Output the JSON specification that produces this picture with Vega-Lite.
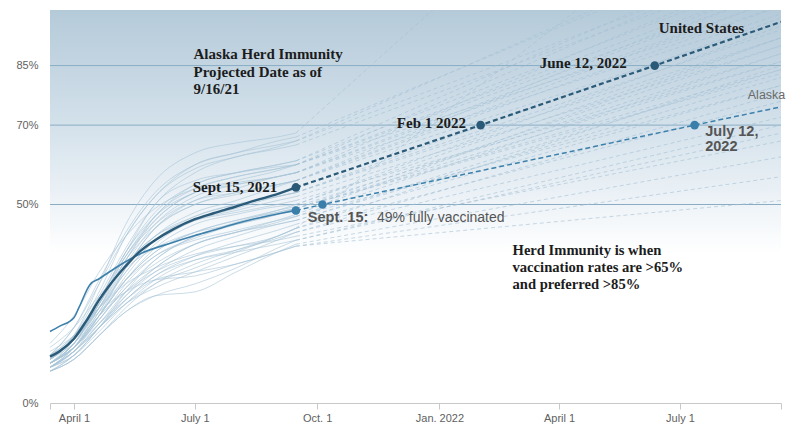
{
  "$schema": "https://vega.github.io/schema/vega-lite/v6.json",
  "width": 731,
  "height": 393,
  "autosize": {"type": "none"},
  "padding": {"left": 50, "top": 10, "right": 5, "bottom": 22},
  "background": "#ffffff",
  "config": {"view": {"stroke": null}, "font": "Liberation Sans"},
  "datasets": {
    "hist": [
      {"s":"VT","d":"2021-03-14","v":11},{"s":"VT","d":"2021-04-01","v":17},{"s":"VT","d":"2021-04-20","v":30},{"s":"VT","d":"2021-05-10","v":45},{"s":"VT","d":"2021-06-01","v":56},{"s":"VT","d":"2021-07-01","v":63},{"s":"VT","d":"2021-08-01","v":65.5},{"s":"VT","d":"2021-09-01","v":67},{"s":"VT","d":"2021-09-15","v":68},
      {"s":"ME","d":"2021-03-14","v":12},{"s":"ME","d":"2021-04-01","v":19},{"s":"ME","d":"2021-04-20","v":31},{"s":"ME","d":"2021-05-10","v":43},{"s":"ME","d":"2021-06-01","v":53},{"s":"ME","d":"2021-07-01","v":60},{"s":"ME","d":"2021-08-01","v":63},{"s":"ME","d":"2021-09-01","v":66},{"s":"ME","d":"2021-09-15","v":67},
      {"s":"MA","d":"2021-03-14","v":11},{"s":"MA","d":"2021-04-01","v":17},{"s":"MA","d":"2021-04-20","v":28},{"s":"MA","d":"2021-05-10","v":42},{"s":"MA","d":"2021-06-01","v":52},{"s":"MA","d":"2021-07-01","v":60},{"s":"MA","d":"2021-08-01","v":63},{"s":"MA","d":"2021-09-01","v":65},{"s":"MA","d":"2021-09-15","v":66},
      {"s":"CT","d":"2021-03-14","v":12},{"s":"CT","d":"2021-04-01","v":19},{"s":"CT","d":"2021-04-20","v":30},{"s":"CT","d":"2021-05-10","v":42},{"s":"CT","d":"2021-06-01","v":52},{"s":"CT","d":"2021-07-01","v":59},{"s":"CT","d":"2021-08-01","v":62},{"s":"CT","d":"2021-09-01","v":64.5},{"s":"CT","d":"2021-09-15","v":66},
      {"s":"RI","d":"2021-03-14","v":10},{"s":"RI","d":"2021-04-01","v":16},{"s":"RI","d":"2021-04-20","v":27},{"s":"RI","d":"2021-05-10","v":39},{"s":"RI","d":"2021-06-01","v":50},{"s":"RI","d":"2021-07-01","v":58},{"s":"RI","d":"2021-08-01","v":62},{"s":"RI","d":"2021-09-01","v":64},{"s":"RI","d":"2021-09-15","v":65},
      {"s":"NH","d":"2021-03-14","v":12},{"s":"NH","d":"2021-04-01","v":17},{"s":"NH","d":"2021-04-20","v":26},{"s":"NH","d":"2021-05-10","v":38},{"s":"NH","d":"2021-06-01","v":50},{"s":"NH","d":"2021-07-01","v":56},{"s":"NH","d":"2021-08-01","v":58},{"s":"NH","d":"2021-09-01","v":59.5},{"s":"NH","d":"2021-09-15","v":60},
      {"s":"NJ","d":"2021-03-14","v":10},{"s":"NJ","d":"2021-04-01","v":15},{"s":"NJ","d":"2021-04-20","v":26},{"s":"NJ","d":"2021-05-10","v":38},{"s":"NJ","d":"2021-06-01","v":48},{"s":"NJ","d":"2021-07-01","v":55},{"s":"NJ","d":"2021-08-01","v":58},{"s":"NJ","d":"2021-09-01","v":60},{"s":"NJ","d":"2021-09-15","v":61},
      {"s":"MD","d":"2021-03-14","v":10},{"s":"MD","d":"2021-04-01","v":15},{"s":"MD","d":"2021-04-20","v":25},{"s":"MD","d":"2021-05-10","v":37},{"s":"MD","d":"2021-06-01","v":47},{"s":"MD","d":"2021-07-01","v":55},{"s":"MD","d":"2021-08-01","v":58},{"s":"MD","d":"2021-09-01","v":60},{"s":"MD","d":"2021-09-15","v":61},
      {"s":"NM","d":"2021-03-14","v":15},{"s":"NM","d":"2021-04-01","v":22},{"s":"NM","d":"2021-04-20","v":33},{"s":"NM","d":"2021-05-10","v":42},{"s":"NM","d":"2021-06-01","v":49},{"s":"NM","d":"2021-07-01","v":54},{"s":"NM","d":"2021-08-01","v":57},{"s":"NM","d":"2021-09-01","v":59},{"s":"NM","d":"2021-09-15","v":60},
      {"s":"WA","d":"2021-03-14","v":10},{"s":"WA","d":"2021-04-01","v":15},{"s":"WA","d":"2021-04-20","v":25},{"s":"WA","d":"2021-05-10","v":36},{"s":"WA","d":"2021-06-01","v":47},{"s":"WA","d":"2021-07-01","v":54},{"s":"WA","d":"2021-08-01","v":57},{"s":"WA","d":"2021-09-01","v":59},{"s":"WA","d":"2021-09-15","v":60},
      {"s":"NY","d":"2021-03-14","v":10},{"s":"NY","d":"2021-04-01","v":15},{"s":"NY","d":"2021-04-20","v":25},{"s":"NY","d":"2021-05-10","v":36},{"s":"NY","d":"2021-06-01","v":46},{"s":"NY","d":"2021-07-01","v":53},{"s":"NY","d":"2021-08-01","v":56},{"s":"NY","d":"2021-09-01","v":58.5},{"s":"NY","d":"2021-09-15","v":60},
      {"s":"HI","d":"2021-03-14","v":11},{"s":"HI","d":"2021-04-01","v":16},{"s":"HI","d":"2021-04-20","v":26},{"s":"HI","d":"2021-05-10","v":38},{"s":"HI","d":"2021-06-01","v":47},{"s":"HI","d":"2021-07-01","v":53},{"s":"HI","d":"2021-08-01","v":55.5},{"s":"HI","d":"2021-09-01","v":57},{"s":"HI","d":"2021-09-15","v":58},
      {"s":"OR","d":"2021-03-14","v":10},{"s":"OR","d":"2021-04-01","v":15},{"s":"OR","d":"2021-04-20","v":24},{"s":"OR","d":"2021-05-10","v":35},{"s":"OR","d":"2021-06-01","v":45},{"s":"OR","d":"2021-07-01","v":52},{"s":"OR","d":"2021-08-01","v":55},{"s":"OR","d":"2021-09-01","v":57},{"s":"OR","d":"2021-09-15","v":58},
      {"s":"CO","d":"2021-03-14","v":11},{"s":"CO","d":"2021-04-01","v":16},{"s":"CO","d":"2021-04-20","v":25},{"s":"CO","d":"2021-05-10","v":37},{"s":"CO","d":"2021-06-01","v":46},{"s":"CO","d":"2021-07-01","v":53},{"s":"CO","d":"2021-08-01","v":55},{"s":"CO","d":"2021-09-01","v":57},{"s":"CO","d":"2021-09-15","v":58},
      {"s":"VA","d":"2021-03-14","v":9},{"s":"VA","d":"2021-04-01","v":14},{"s":"VA","d":"2021-04-20","v":23},{"s":"VA","d":"2021-05-10","v":34},{"s":"VA","d":"2021-06-01","v":44},{"s":"VA","d":"2021-07-01","v":51},{"s":"VA","d":"2021-08-01","v":54},{"s":"VA","d":"2021-09-01","v":57},{"s":"VA","d":"2021-09-15","v":58},
      {"s":"CA","d":"2021-03-14","v":9},{"s":"CA","d":"2021-04-01","v":13},{"s":"CA","d":"2021-04-20","v":22},{"s":"CA","d":"2021-05-10","v":34},{"s":"CA","d":"2021-06-01","v":44},{"s":"CA","d":"2021-07-01","v":50},{"s":"CA","d":"2021-08-01","v":53},{"s":"CA","d":"2021-09-01","v":55},{"s":"CA","d":"2021-09-15","v":56},
      {"s":"MN","d":"2021-03-14","v":11},{"s":"MN","d":"2021-04-01","v":16},{"s":"MN","d":"2021-04-20","v":26},{"s":"MN","d":"2021-05-10","v":37},{"s":"MN","d":"2021-06-01","v":45},{"s":"MN","d":"2021-07-01","v":51},{"s":"MN","d":"2021-08-01","v":53},{"s":"MN","d":"2021-09-01","v":55},{"s":"MN","d":"2021-09-15","v":56},
      {"s":"PA","d":"2021-03-14","v":9},{"s":"PA","d":"2021-04-01","v":14},{"s":"PA","d":"2021-04-20","v":24},{"s":"PA","d":"2021-05-10","v":36},{"s":"PA","d":"2021-06-01","v":44},{"s":"PA","d":"2021-07-01","v":50},{"s":"PA","d":"2021-08-01","v":52.5},{"s":"PA","d":"2021-09-01","v":55},{"s":"PA","d":"2021-09-15","v":56},
      {"s":"DE","d":"2021-03-14","v":10},{"s":"DE","d":"2021-04-01","v":15},{"s":"DE","d":"2021-04-20","v":24},{"s":"DE","d":"2021-05-10","v":34},{"s":"DE","d":"2021-06-01","v":42},{"s":"DE","d":"2021-07-01","v":48},{"s":"DE","d":"2021-08-01","v":51},{"s":"DE","d":"2021-09-01","v":54.5},{"s":"DE","d":"2021-09-15","v":56},
      {"s":"FL","d":"2021-03-14","v":10},{"s":"FL","d":"2021-04-01","v":14},{"s":"FL","d":"2021-04-20","v":22},{"s":"FL","d":"2021-05-10","v":32},{"s":"FL","d":"2021-06-01","v":40},{"s":"FL","d":"2021-07-01","v":46},{"s":"FL","d":"2021-08-01","v":49},{"s":"FL","d":"2021-09-01","v":52},{"s":"FL","d":"2021-09-15","v":53},
      {"s":"IL","d":"2021-03-14","v":9},{"s":"IL","d":"2021-04-01","v":14},{"s":"IL","d":"2021-04-20","v":23},{"s":"IL","d":"2021-05-10","v":33},{"s":"IL","d":"2021-06-01","v":41},{"s":"IL","d":"2021-07-01","v":47},{"s":"IL","d":"2021-08-01","v":50},{"s":"IL","d":"2021-09-01","v":52},{"s":"IL","d":"2021-09-15","v":53},
      {"s":"WI","d":"2021-03-14","v":11},{"s":"WI","d":"2021-04-01","v":16},{"s":"WI","d":"2021-04-20","v":25},{"s":"WI","d":"2021-05-10","v":35},{"s":"WI","d":"2021-06-01","v":42},{"s":"WI","d":"2021-07-01","v":47},{"s":"WI","d":"2021-08-01","v":50},{"s":"WI","d":"2021-09-01","v":52},{"s":"WI","d":"2021-09-15","v":53},
      {"s":"NE","d":"2021-03-14","v":11},{"s":"NE","d":"2021-04-01","v":16},{"s":"NE","d":"2021-04-20","v":24},{"s":"NE","d":"2021-05-10","v":33},{"s":"NE","d":"2021-06-01","v":41},{"s":"NE","d":"2021-07-01","v":46},{"s":"NE","d":"2021-08-01","v":48.5},{"s":"NE","d":"2021-09-01","v":51},{"s":"NE","d":"2021-09-15","v":52},
      {"s":"IA","d":"2021-03-14","v":12},{"s":"IA","d":"2021-04-01","v":17},{"s":"IA","d":"2021-04-20","v":26},{"s":"IA","d":"2021-05-10","v":35},{"s":"IA","d":"2021-06-01","v":42},{"s":"IA","d":"2021-07-01","v":46},{"s":"IA","d":"2021-08-01","v":48},{"s":"IA","d":"2021-09-01","v":50},{"s":"IA","d":"2021-09-15","v":51},
      {"s":"MI","d":"2021-03-14","v":10},{"s":"MI","d":"2021-04-01","v":14},{"s":"MI","d":"2021-04-20","v":22},{"s":"MI","d":"2021-05-10","v":31},{"s":"MI","d":"2021-06-01","v":39},{"s":"MI","d":"2021-07-01","v":45},{"s":"MI","d":"2021-08-01","v":47.5},{"s":"MI","d":"2021-09-01","v":49.5},{"s":"MI","d":"2021-09-15","v":50},
      {"s":"UT","d":"2021-03-14","v":8},{"s":"UT","d":"2021-04-01","v":12},{"s":"UT","d":"2021-04-20","v":19},{"s":"UT","d":"2021-05-10","v":28},{"s":"UT","d":"2021-06-01","v":36},{"s":"UT","d":"2021-07-01","v":42},{"s":"UT","d":"2021-08-01","v":45.5},{"s":"UT","d":"2021-09-01","v":48.5},{"s":"UT","d":"2021-09-15","v":50},
      {"s":"AZ","d":"2021-03-14","v":10},{"s":"AZ","d":"2021-04-01","v":14},{"s":"AZ","d":"2021-04-20","v":22},{"s":"AZ","d":"2021-05-10","v":31},{"s":"AZ","d":"2021-06-01","v":38},{"s":"AZ","d":"2021-07-01","v":43},{"s":"AZ","d":"2021-08-01","v":46},{"s":"AZ","d":"2021-09-01","v":48.5},{"s":"AZ","d":"2021-09-15","v":49.5},
      {"s":"SD","d":"2021-03-14","v":14},{"s":"SD","d":"2021-04-01","v":19},{"s":"SD","d":"2021-04-20","v":27},{"s":"SD","d":"2021-05-10","v":34},{"s":"SD","d":"2021-06-01","v":39},{"s":"SD","d":"2021-07-01","v":43},{"s":"SD","d":"2021-08-01","v":45},{"s":"SD","d":"2021-09-01","v":47.5},{"s":"SD","d":"2021-09-15","v":49},
      {"s":"OH","d":"2021-03-14","v":10},{"s":"OH","d":"2021-04-01","v":14},{"s":"OH","d":"2021-04-20","v":22},{"s":"OH","d":"2021-05-10","v":31},{"s":"OH","d":"2021-06-01","v":38},{"s":"OH","d":"2021-07-01","v":43},{"s":"OH","d":"2021-08-01","v":46},{"s":"OH","d":"2021-09-01","v":48},{"s":"OH","d":"2021-09-15","v":49},
      {"s":"KS","d":"2021-03-14","v":10},{"s":"KS","d":"2021-04-01","v":14},{"s":"KS","d":"2021-04-20","v":21},{"s":"KS","d":"2021-05-10","v":30},{"s":"KS","d":"2021-06-01","v":37},{"s":"KS","d":"2021-07-01","v":41.5},{"s":"KS","d":"2021-08-01","v":45},{"s":"KS","d":"2021-09-01","v":47.5},{"s":"KS","d":"2021-09-15","v":49},
      {"s":"KY","d":"2021-03-14","v":10},{"s":"KY","d":"2021-04-01","v":14},{"s":"KY","d":"2021-04-20","v":21},{"s":"KY","d":"2021-05-10","v":29},{"s":"KY","d":"2021-06-01","v":36},{"s":"KY","d":"2021-07-01","v":42},{"s":"KY","d":"2021-08-01","v":45},{"s":"KY","d":"2021-09-01","v":48},{"s":"KY","d":"2021-09-15","v":49},
      {"s":"TX","d":"2021-03-14","v":8},{"s":"TX","d":"2021-04-01","v":12},{"s":"TX","d":"2021-04-20","v":19},{"s":"TX","d":"2021-05-10","v":27},{"s":"TX","d":"2021-06-01","v":34},{"s":"TX","d":"2021-07-01","v":40},{"s":"TX","d":"2021-08-01","v":43},{"s":"TX","d":"2021-09-01","v":46},{"s":"TX","d":"2021-09-15","v":47.5},
      {"s":"NC","d":"2021-03-14","v":10},{"s":"NC","d":"2021-04-01","v":14},{"s":"NC","d":"2021-04-20","v":21},{"s":"NC","d":"2021-05-10","v":29},{"s":"NC","d":"2021-06-01","v":35},{"s":"NC","d":"2021-07-01","v":40},{"s":"NC","d":"2021-08-01","v":43},{"s":"NC","d":"2021-09-01","v":45.5},{"s":"NC","d":"2021-09-15","v":47},
      {"s":"MT","d":"2021-03-14","v":12},{"s":"MT","d":"2021-04-01","v":16},{"s":"MT","d":"2021-04-20","v":24},{"s":"MT","d":"2021-05-10","v":31},{"s":"MT","d":"2021-06-01","v":37},{"s":"MT","d":"2021-07-01","v":41},{"s":"MT","d":"2021-08-01","v":43.5},{"s":"MT","d":"2021-09-01","v":46},{"s":"MT","d":"2021-09-15","v":47},
      {"s":"IN","d":"2021-03-14","v":9},{"s":"IN","d":"2021-04-01","v":13},{"s":"IN","d":"2021-04-20","v":20},{"s":"IN","d":"2021-05-10","v":28},{"s":"IN","d":"2021-06-01","v":34},{"s":"IN","d":"2021-07-01","v":40},{"s":"IN","d":"2021-08-01","v":43},{"s":"IN","d":"2021-09-01","v":45},{"s":"IN","d":"2021-09-15","v":46},
      {"s":"MO","d":"2021-03-14","v":9},{"s":"MO","d":"2021-04-01","v":13},{"s":"MO","d":"2021-04-20","v":20},{"s":"MO","d":"2021-05-10","v":27},{"s":"MO","d":"2021-06-01","v":33},{"s":"MO","d":"2021-07-01","v":38.5},{"s":"MO","d":"2021-08-01","v":42},{"s":"MO","d":"2021-09-01","v":45},{"s":"MO","d":"2021-09-15","v":46},
      {"s":"SC","d":"2021-03-14","v":9},{"s":"SC","d":"2021-04-01","v":12},{"s":"SC","d":"2021-04-20","v":19},{"s":"SC","d":"2021-05-10","v":26},{"s":"SC","d":"2021-06-01","v":32},{"s":"SC","d":"2021-07-01","v":37},{"s":"SC","d":"2021-08-01","v":40.5},{"s":"SC","d":"2021-09-01","v":43.5},{"s":"SC","d":"2021-09-15","v":45},
      {"s":"GA","d":"2021-03-14","v":8},{"s":"GA","d":"2021-04-01","v":11},{"s":"GA","d":"2021-04-20","v":17},{"s":"GA","d":"2021-05-10","v":24},{"s":"GA","d":"2021-06-01","v":30},{"s":"GA","d":"2021-07-01","v":35},{"s":"GA","d":"2021-08-01","v":38.5},{"s":"GA","d":"2021-09-01","v":42},{"s":"GA","d":"2021-09-15","v":44},
      {"s":"OK","d":"2021-03-14","v":11},{"s":"OK","d":"2021-04-01","v":15},{"s":"OK","d":"2021-04-20","v":22},{"s":"OK","d":"2021-05-10","v":28},{"s":"OK","d":"2021-06-01","v":33},{"s":"OK","d":"2021-07-01","v":37},{"s":"OK","d":"2021-08-01","v":39.5},{"s":"OK","d":"2021-09-01","v":42},{"s":"OK","d":"2021-09-15","v":44},
      {"s":"AR","d":"2021-03-14","v":9},{"s":"AR","d":"2021-04-01","v":13},{"s":"AR","d":"2021-04-20","v":19},{"s":"AR","d":"2021-05-10","v":25},{"s":"AR","d":"2021-06-01","v":30},{"s":"AR","d":"2021-07-01","v":34},{"s":"AR","d":"2021-08-01","v":38},{"s":"AR","d":"2021-09-01","v":42},{"s":"AR","d":"2021-09-15","v":44},
      {"s":"TN","d":"2021-03-14","v":9},{"s":"TN","d":"2021-04-01","v":12},{"s":"TN","d":"2021-04-20","v":18},{"s":"TN","d":"2021-05-10","v":25},{"s":"TN","d":"2021-06-01","v":31},{"s":"TN","d":"2021-07-01","v":36},{"s":"TN","d":"2021-08-01","v":38.5},{"s":"TN","d":"2021-09-01","v":41.5},{"s":"TN","d":"2021-09-15","v":43},
      {"s":"LA","d":"2021-03-14","v":9},{"s":"LA","d":"2021-04-01","v":13},{"s":"LA","d":"2021-04-20","v":19},{"s":"LA","d":"2021-05-10","v":25},{"s":"LA","d":"2021-06-01","v":29},{"s":"LA","d":"2021-07-01","v":33},{"s":"LA","d":"2021-08-01","v":37},{"s":"LA","d":"2021-09-01","v":41},{"s":"LA","d":"2021-09-15","v":43},
      {"s":"ND","d":"2021-03-14","v":13},{"s":"ND","d":"2021-04-01","v":17},{"s":"ND","d":"2021-04-20","v":24},{"s":"ND","d":"2021-05-10","v":30},{"s":"ND","d":"2021-06-01","v":34},{"s":"ND","d":"2021-07-01","v":37.5},{"s":"ND","d":"2021-08-01","v":39.5},{"s":"ND","d":"2021-09-01","v":41},{"s":"ND","d":"2021-09-15","v":42},
      {"s":"ID","d":"2021-03-14","v":9},{"s":"ID","d":"2021-04-01","v":13},{"s":"ID","d":"2021-04-20","v":19},{"s":"ID","d":"2021-05-10","v":26},{"s":"ID","d":"2021-06-01","v":32},{"s":"ID","d":"2021-07-01","v":36},{"s":"ID","d":"2021-08-01","v":38},{"s":"ID","d":"2021-09-01","v":40},{"s":"ID","d":"2021-09-15","v":41},
      {"s":"MS","d":"2021-03-14","v":8},{"s":"MS","d":"2021-04-01","v":11},{"s":"MS","d":"2021-04-20","v":17},{"s":"MS","d":"2021-05-10","v":23},{"s":"MS","d":"2021-06-01","v":27},{"s":"MS","d":"2021-07-01","v":30},{"s":"MS","d":"2021-08-01","v":34},{"s":"MS","d":"2021-09-01","v":39},{"s":"MS","d":"2021-09-15","v":41},
      {"s":"AL","d":"2021-03-14","v":8},{"s":"AL","d":"2021-04-01","v":11},{"s":"AL","d":"2021-04-20","v":17},{"s":"AL","d":"2021-05-10","v":23},{"s":"AL","d":"2021-06-01","v":27},{"s":"AL","d":"2021-07-01","v":28},{"s":"AL","d":"2021-08-01","v":33},{"s":"AL","d":"2021-09-01","v":38},{"s":"AL","d":"2021-09-15","v":40},
      {"s":"WY","d":"2021-03-14","v":10},{"s":"WY","d":"2021-04-01","v":14},{"s":"WY","d":"2021-04-20","v":20},{"s":"WY","d":"2021-05-10","v":26},{"s":"WY","d":"2021-06-01","v":31},{"s":"WY","d":"2021-07-01","v":33},{"s":"WY","d":"2021-08-01","v":35},{"s":"WY","d":"2021-09-01","v":38},{"s":"WY","d":"2021-09-15","v":39.5},
      {"s":"WV","d":"2021-03-14","v":12},{"s":"WV","d":"2021-04-01","v":16},{"s":"WV","d":"2021-04-20","v":23},{"s":"WV","d":"2021-05-10","v":28},{"s":"WV","d":"2021-06-01","v":31},{"s":"WV","d":"2021-07-01","v":32},{"s":"WV","d":"2021-08-01","v":35},{"s":"WV","d":"2021-09-01","v":38},{"s":"WV","d":"2021-09-15","v":39.5}
    ],
    "proj": [
      {"s":"VT","d":"2021-09-15","v":68},{"s":"VT","d":"2022-09-15","v":178},
      {"s":"ME","d":"2021-09-15","v":67},{"s":"ME","d":"2022-09-15","v":118},
      {"s":"MA","d":"2021-09-15","v":66},{"s":"MA","d":"2022-09-15","v":112},
      {"s":"CT","d":"2021-09-15","v":66},{"s":"CT","d":"2022-09-15","v":120},
      {"s":"RI","d":"2021-09-15","v":65},{"s":"RI","d":"2022-09-15","v":110},
      {"s":"NH","d":"2021-09-15","v":60},{"s":"NH","d":"2022-09-15","v":104},
      {"s":"NJ","d":"2021-09-15","v":61},{"s":"NJ","d":"2022-09-15","v":108},
      {"s":"MD","d":"2021-09-15","v":61},{"s":"MD","d":"2022-09-15","v":115},
      {"s":"NM","d":"2021-09-15","v":60},{"s":"NM","d":"2022-09-15","v":100},
      {"s":"WA","d":"2021-09-15","v":60},{"s":"WA","d":"2022-09-15","v":106},
      {"s":"NY","d":"2021-09-15","v":60},{"s":"NY","d":"2022-09-15","v":113},
      {"s":"HI","d":"2021-09-15","v":58},{"s":"HI","d":"2022-09-15","v":98},
      {"s":"OR","d":"2021-09-15","v":58},{"s":"OR","d":"2022-09-15","v":102},
      {"s":"CO","d":"2021-09-15","v":58},{"s":"CO","d":"2022-09-15","v":104},
      {"s":"VA","d":"2021-09-15","v":58},{"s":"VA","d":"2022-09-15","v":110},
      {"s":"CA","d":"2021-09-15","v":56},{"s":"CA","d":"2022-09-15","v":100},
      {"s":"MN","d":"2021-09-15","v":56},{"s":"MN","d":"2022-09-15","v":96},
      {"s":"PA","d":"2021-09-15","v":56},{"s":"PA","d":"2022-09-15","v":102},
      {"s":"DE","d":"2021-09-15","v":56},{"s":"DE","d":"2022-09-15","v":106},
      {"s":"FL","d":"2021-09-15","v":53},{"s":"FL","d":"2022-09-15","v":92},
      {"s":"IL","d":"2021-09-15","v":53},{"s":"IL","d":"2022-09-15","v":97},
      {"s":"WI","d":"2021-09-15","v":53},{"s":"WI","d":"2022-09-15","v":94},
      {"s":"NE","d":"2021-09-15","v":52},{"s":"NE","d":"2022-09-15","v":90},
      {"s":"IA","d":"2021-09-15","v":51},{"s":"IA","d":"2022-09-15","v":86},
      {"s":"MI","d":"2021-09-15","v":50},{"s":"MI","d":"2022-09-15","v":92},
      {"s":"UT","d":"2021-09-15","v":50},{"s":"UT","d":"2022-09-15","v":95},
      {"s":"AZ","d":"2021-09-15","v":49.5},{"s":"AZ","d":"2022-09-15","v":88},
      {"s":"SD","d":"2021-09-15","v":49},{"s":"SD","d":"2022-09-15","v":84},
      {"s":"OH","d":"2021-09-15","v":49},{"s":"OH","d":"2022-09-15","v":86},
      {"s":"KS","d":"2021-09-15","v":49},{"s":"KS","d":"2022-09-15","v":90},
      {"s":"KY","d":"2021-09-15","v":49},{"s":"KY","d":"2022-09-15","v":83},
      {"s":"TX","d":"2021-09-15","v":47.5},{"s":"TX","d":"2022-09-15","v":92},
      {"s":"NC","d":"2021-09-15","v":47},{"s":"NC","d":"2022-09-15","v":88},
      {"s":"MT","d":"2021-09-15","v":47},{"s":"MT","d":"2022-09-15","v":80},
      {"s":"IN","d":"2021-09-15","v":46},{"s":"IN","d":"2022-09-15","v":82},
      {"s":"MO","d":"2021-09-15","v":46},{"s":"MO","d":"2022-09-15","v":84},
      {"s":"SC","d":"2021-09-15","v":45},{"s":"SC","d":"2022-09-15","v":80},
      {"s":"GA","d":"2021-09-15","v":44},{"s":"GA","d":"2022-09-15","v":85},
      {"s":"OK","d":"2021-09-15","v":44},{"s":"OK","d":"2022-09-15","v":76},
      {"s":"AR","d":"2021-09-15","v":44},{"s":"AR","d":"2022-09-15","v":139},
      {"s":"TN","d":"2021-09-15","v":43},{"s":"TN","d":"2022-09-15","v":72},
      {"s":"LA","d":"2021-09-15","v":43},{"s":"LA","d":"2022-09-15","v":78},
      {"s":"ND","d":"2021-09-15","v":42},{"s":"ND","d":"2022-09-15","v":66},
      {"s":"ID","d":"2021-09-15","v":41},{"s":"ID","d":"2022-09-15","v":68},
      {"s":"MS","d":"2021-09-15","v":41},{"s":"MS","d":"2022-09-15","v":70},
      {"s":"AL","d":"2021-09-15","v":40},{"s":"AL","d":"2022-09-15","v":62},
      {"s":"WY","d":"2021-09-15","v":39.5},{"s":"WY","d":"2022-09-15","v":57},
      {"s":"WV","d":"2021-09-15","v":39.5},{"s":"WV","d":"2022-09-15","v":51}
    ],
    "usHist": [
      {"d":"2021-03-14","v":11.7},{"d":"2021-03-21","v":13},{"d":"2021-04-01","v":16.2},{"d":"2021-04-10","v":20.5},{"d":"2021-04-20","v":26},{"d":"2021-04-27","v":29.3},{"d":"2021-05-10","v":34.5},{"d":"2021-05-20","v":38},{"d":"2021-06-01","v":41},{"d":"2021-06-15","v":43.8},{"d":"2021-07-01","v":46.3},{"d":"2021-07-15","v":47.8},{"d":"2021-08-01","v":49.5},{"d":"2021-08-15","v":51},{"d":"2021-09-01","v":52.6},{"d":"2021-09-15","v":54.3}
    ],
    "akHist": [
      {"d":"2021-03-14","v":18},{"d":"2021-03-21","v":19.3},{"d":"2021-04-01","v":21.5},{"d":"2021-04-05","v":24.2},{"d":"2021-04-13","v":29.8},{"d":"2021-04-20","v":31.3},{"d":"2021-05-03","v":34.2},{"d":"2021-05-21","v":37.6},{"d":"2021-06-15","v":40.5},{"d":"2021-07-01","v":42.2},{"d":"2021-07-15","v":43.5},{"d":"2021-08-01","v":45.2},{"d":"2021-08-15","v":46.4},{"d":"2021-09-01","v":47.6},{"d":"2021-09-15","v":48.5}
    ],
    "usProj": [
      {"d":"2021-09-15","v":54.3},{"d":"2022-02-01","v":70},{"d":"2022-06-12","v":85},{"d":"2022-09-15","v":96}
    ],
    "akProj": [
      {"d":"2021-09-15","v":48.5},{"d":"2021-10-05","v":50},{"d":"2022-07-12","v":70},{"d":"2022-09-15","v":74.6}
    ]
  },
  "layer": [
    {
      "data": {"values": [{"d":"2021-03-14","d2":"2022-09-15","v":0,"v2":99}]},
      "mark": {"type": "rect", "color": {"gradient": "linear", "x1": 0, "y1": 0, "x2": 0, "y2": 1, "stops": [{"offset": 0, "color": "#b5cad9"}, {"offset": 0.28, "color": "#d2e0ea"}, {"offset": 0.5, "color": "#eff4f8"}, {"offset": 0.62, "color": "#ffffff"}, {"offset": 1, "color": "#ffffff"}]}},
      "encoding": {
        "x": {"field": "d", "type": "temporal", "scale": {"type": "utc", "domain": [{"year":2021,"month":3,"date":14,"utc":true},{"year":2022,"month":9,"date":15,"utc":true}]},
          "axis": {"title": null, "values": [{"year":2021,"month":3,"date":14,"utc":true},{"year":2021,"month":4,"date":1,"utc":true},{"year":2021,"month":7,"date":1,"utc":true},{"year":2021,"month":10,"date":1,"utc":true},{"year":2022,"month":1,"date":1,"utc":true},{"year":2022,"month":4,"date":1,"utc":true},{"year":2022,"month":7,"date":1,"utc":true},{"year":2022,"month":9,"date":15,"utc":true}],
            "labelExpr": "utcdate(datum.value)!=1 ? '' : utcmonth(datum.value)==3 ? 'April 1' : utcmonth(datum.value)==6 ? 'July 1' : utcmonth(datum.value)==9 ? 'Oct. 1' : utcmonth(datum.value)==0 ? 'Jan. 2022' : ''",
            "grid": false, "domainColor": "#c8c8c8", "tickColor": "#c8c8c8", "tickSize": 6, "labelPadding": 3, "labelColor": "#5f5f5f", "labelFont": "Liberation Sans", "labelFontSize": 11, "labelAlign": "center", "labelFlush": false, "labelOverlap": false}},
        "x2": {"field": "d2"},
        "y": {"field": "v", "type": "quantitative", "scale": {"domain": [0, 99], "nice": false},
          "axis": {"title": null, "values": [0, 50, 70, 85], "labelExpr": "datum.value + '%'", "grid": false, "domain": false, "ticks": false, "tickSize": 0, "labelPadding": 12, "labelColor": "#5f5f5f", "labelFont": "Liberation Sans", "labelFontSize": 11}},
        "y2": {"field": "v2"}
      }
    },
    {
      "data": {"values": [{"v":50},{"v":70},{"v":85}]},
      "mark": {"type": "rule", "color": "#8aadc5", "strokeWidth": 1},
      "encoding": {"y": {"field": "v", "type": "quantitative", "scale": {"domain": [0, 99], "nice": false}}}
    },
    {
      "data": {"name": "hist"},
      "mark": {"type": "line", "stroke": "#a9c4d7", "strokeWidth": 1, "opacity": 0.6, "interpolate": "monotone"},
      "encoding": {
        "x": {"field": "d", "type": "temporal", "scale": {"type": "utc", "domain": [{"year":2021,"month":3,"date":14,"utc":true},{"year":2022,"month":9,"date":15,"utc":true}]}},
        "y": {"field": "v", "type": "quantitative", "scale": {"domain": [0, 99], "nice": false}},
        "detail": {"field": "s"}
      }
    },
    {
      "data": {"name": "proj"},
      "mark": {"type": "line", "stroke": "#a3bfd3", "strokeWidth": 1, "opacity": 0.6, "strokeDash": [4, 3], "clip": true},
      "encoding": {
        "x": {"field": "d", "type": "temporal", "scale": {"type": "utc", "domain": [{"year":2021,"month":3,"date":14,"utc":true},{"year":2022,"month":9,"date":15,"utc":true}]}},
        "y": {"field": "v", "type": "quantitative", "scale": {"domain": [0, 99], "nice": false}},
        "detail": {"field": "s"}
      }
    },
    {
      "data": {"name": "akHist"},
      "mark": {"type": "line", "stroke": "#3d80ab", "strokeWidth": 1.6, "interpolate": "monotone"},
      "encoding": {
        "x": {"field": "d", "type": "temporal", "scale": {"type": "utc", "domain": [{"year":2021,"month":3,"date":14,"utc":true},{"year":2022,"month":9,"date":15,"utc":true}]}},
        "y": {"field": "v", "type": "quantitative", "scale": {"domain": [0, 99], "nice": false}}
      }
    },
    {
      "data": {"name": "usHist"},
      "mark": {"type": "line", "stroke": "#2b5b79", "strokeWidth": 2.4, "interpolate": "monotone"},
      "encoding": {
        "x": {"field": "d", "type": "temporal", "scale": {"type": "utc", "domain": [{"year":2021,"month":3,"date":14,"utc":true},{"year":2022,"month":9,"date":15,"utc":true}]}},
        "y": {"field": "v", "type": "quantitative", "scale": {"domain": [0, 99], "nice": false}}
      }
    },
    {
      "data": {"name": "akProj"},
      "mark": {"type": "line", "stroke": "#3d80ab", "strokeWidth": 1.5, "strokeDash": [5, 3], "clip": true},
      "encoding": {
        "x": {"field": "d", "type": "temporal", "scale": {"type": "utc", "domain": [{"year":2021,"month":3,"date":14,"utc":true},{"year":2022,"month":9,"date":15,"utc":true}]}},
        "y": {"field": "v", "type": "quantitative", "scale": {"domain": [0, 99], "nice": false}}
      }
    },
    {
      "data": {"name": "usProj"},
      "mark": {"type": "line", "stroke": "#2b5b79", "strokeWidth": 2.2, "strokeDash": [5, 3], "clip": true},
      "encoding": {
        "x": {"field": "d", "type": "temporal", "scale": {"type": "utc", "domain": [{"year":2021,"month":3,"date":14,"utc":true},{"year":2022,"month":9,"date":15,"utc":true}]}},
        "y": {"field": "v", "type": "quantitative", "scale": {"domain": [0, 99], "nice": false}}
      }
    },
    {
      "data": {"values": [{"d":"2021-09-15","v":48.5},{"d":"2021-10-05","v":50},{"d":"2022-07-12","v":70}]},
      "mark": {"type": "point", "filled": true, "opacity": 1, "size": 75, "color": "#3a7eaa"},
      "encoding": {
        "x": {"field": "d", "type": "temporal", "scale": {"type": "utc", "domain": [{"year":2021,"month":3,"date":14,"utc":true},{"year":2022,"month":9,"date":15,"utc":true}]}},
        "y": {"field": "v", "type": "quantitative", "scale": {"domain": [0, 99], "nice": false}}
      }
    },
    {
      "data": {"values": [{"d":"2021-09-15","v":54.3},{"d":"2022-02-01","v":70},{"d":"2022-06-12","v":85}]},
      "mark": {"type": "point", "filled": true, "opacity": 1, "size": 75, "color": "#2a5a78"},
      "encoding": {
        "x": {"field": "d", "type": "temporal", "scale": {"type": "utc", "domain": [{"year":2021,"month":3,"date":14,"utc":true},{"year":2022,"month":9,"date":15,"utc":true}]}},
        "y": {"field": "v", "type": "quantitative", "scale": {"domain": [0, 99], "nice": false}}
      }
    },
    {
      "data": {"values": [
        {"d":"2021-06-30","v":87.8,"t":"Alaska Herd Immunity"},
        {"d":"2021-06-30","v":83.5,"t":"Projected Date as of"},
        {"d":"2021-06-30","v":79.2,"t":"9/16/21"},
        {"d":"2022-06-15","v":94.4,"t":"United States"}
      ]},
      "mark": {"type": "text", "align": "left", "baseline": "middle", "font": "Liberation Serif", "fontWeight": "bold", "fontSize": 15, "color": "#1c1c1c"},
      "encoding": {
        "x": {"field": "d", "type": "temporal", "scale": {"type": "utc", "domain": [{"year":2021,"month":3,"date":14,"utc":true},{"year":2022,"month":9,"date":15,"utc":true}]}},
        "y": {"field": "v", "type": "quantitative", "scale": {"domain": [0, 99], "nice": false}},
        "text": {"field": "t"}
      }
    },
    {
      "data": {"values": [
        {"d":"2022-02-25","v":38.2,"t":"Herd Immunity is when"},
        {"d":"2022-02-25","v":34.1,"t":"vaccination rates are >65%"},
        {"d":"2022-02-25","v":29.6,"t":"and preferred >85%"}
      ]},
      "mark": {"type": "text", "align": "left", "baseline": "middle", "font": "Liberation Serif", "fontWeight": "bold", "fontSize": 14.6, "color": "#1c1c1c"},
      "encoding": {
        "x": {"field": "d", "type": "temporal", "scale": {"type": "utc", "domain": [{"year":2021,"month":3,"date":14,"utc":true},{"year":2022,"month":9,"date":15,"utc":true}]}},
        "y": {"field": "v", "type": "quantitative", "scale": {"domain": [0, 99], "nice": false}},
        "text": {"field": "t"}
      }
    },
    {
      "data": {"values": [
        {"d":"2021-09-01","v":54.5,"t":"Sept 15, 2021"},
        {"d":"2022-01-21","v":70.6,"t":"Feb 1 2022"},
        {"d":"2022-05-22","v":85.7,"t":"June 12, 2022"}
      ]},
      "mark": {"type": "text", "align": "right", "baseline": "middle", "font": "Liberation Serif", "fontWeight": "bold", "fontSize": 15, "color": "#1c1c1c"},
      "encoding": {
        "x": {"field": "d", "type": "temporal", "scale": {"type": "utc", "domain": [{"year":2021,"month":3,"date":14,"utc":true},{"year":2022,"month":9,"date":15,"utc":true}]}},
        "y": {"field": "v", "type": "quantitative", "scale": {"domain": [0, 99], "nice": false}},
        "text": {"field": "t"}
      }
    },
    {
      "data": {"values": [
        {"d":"2022-07-20","v":68.2,"t":"July 12,"},
        {"d":"2022-07-20","v":64.4,"t":"2022"},
        {"d":"2021-09-24","v":46.5,"t":"Sept. 15:"}
      ]},
      "mark": {"type": "text", "align": "left", "baseline": "middle", "font": "Liberation Sans", "fontWeight": "bold", "fontSize": 14.5, "color": "#555555"},
      "encoding": {
        "x": {"field": "d", "type": "temporal", "scale": {"type": "utc", "domain": [{"year":2021,"month":3,"date":14,"utc":true},{"year":2022,"month":9,"date":15,"utc":true}]}},
        "y": {"field": "v", "type": "quantitative", "scale": {"domain": [0, 99], "nice": false}},
        "text": {"field": "t"}
      }
    },
    {
      "data": {"values": [
        {"d":"2021-11-15","v":46.5,"t":"49% fully vaccinated"}
      ]},
      "mark": {"type": "text", "align": "left", "baseline": "middle", "font": "Liberation Sans", "fontSize": 14, "color": "#555555"},
      "encoding": {
        "x": {"field": "d", "type": "temporal", "scale": {"type": "utc", "domain": [{"year":2021,"month":3,"date":14,"utc":true},{"year":2022,"month":9,"date":15,"utc":true}]}},
        "y": {"field": "v", "type": "quantitative", "scale": {"domain": [0, 99], "nice": false}},
        "text": {"field": "t"}
      }
    },
    {
      "data": {"values": [
        {"d":"2022-08-21","v":77.5,"t":"Alaska"}
      ]},
      "mark": {"type": "text", "align": "left", "baseline": "middle", "font": "Liberation Sans", "fontSize": 12.5, "color": "#6a6a6a"},
      "encoding": {
        "x": {"field": "d", "type": "temporal", "scale": {"type": "utc", "domain": [{"year":2021,"month":3,"date":14,"utc":true},{"year":2022,"month":9,"date":15,"utc":true}]}},
        "y": {"field": "v", "type": "quantitative", "scale": {"domain": [0, 99], "nice": false}},
        "text": {"field": "t"}
      }
    }
  ]
}
